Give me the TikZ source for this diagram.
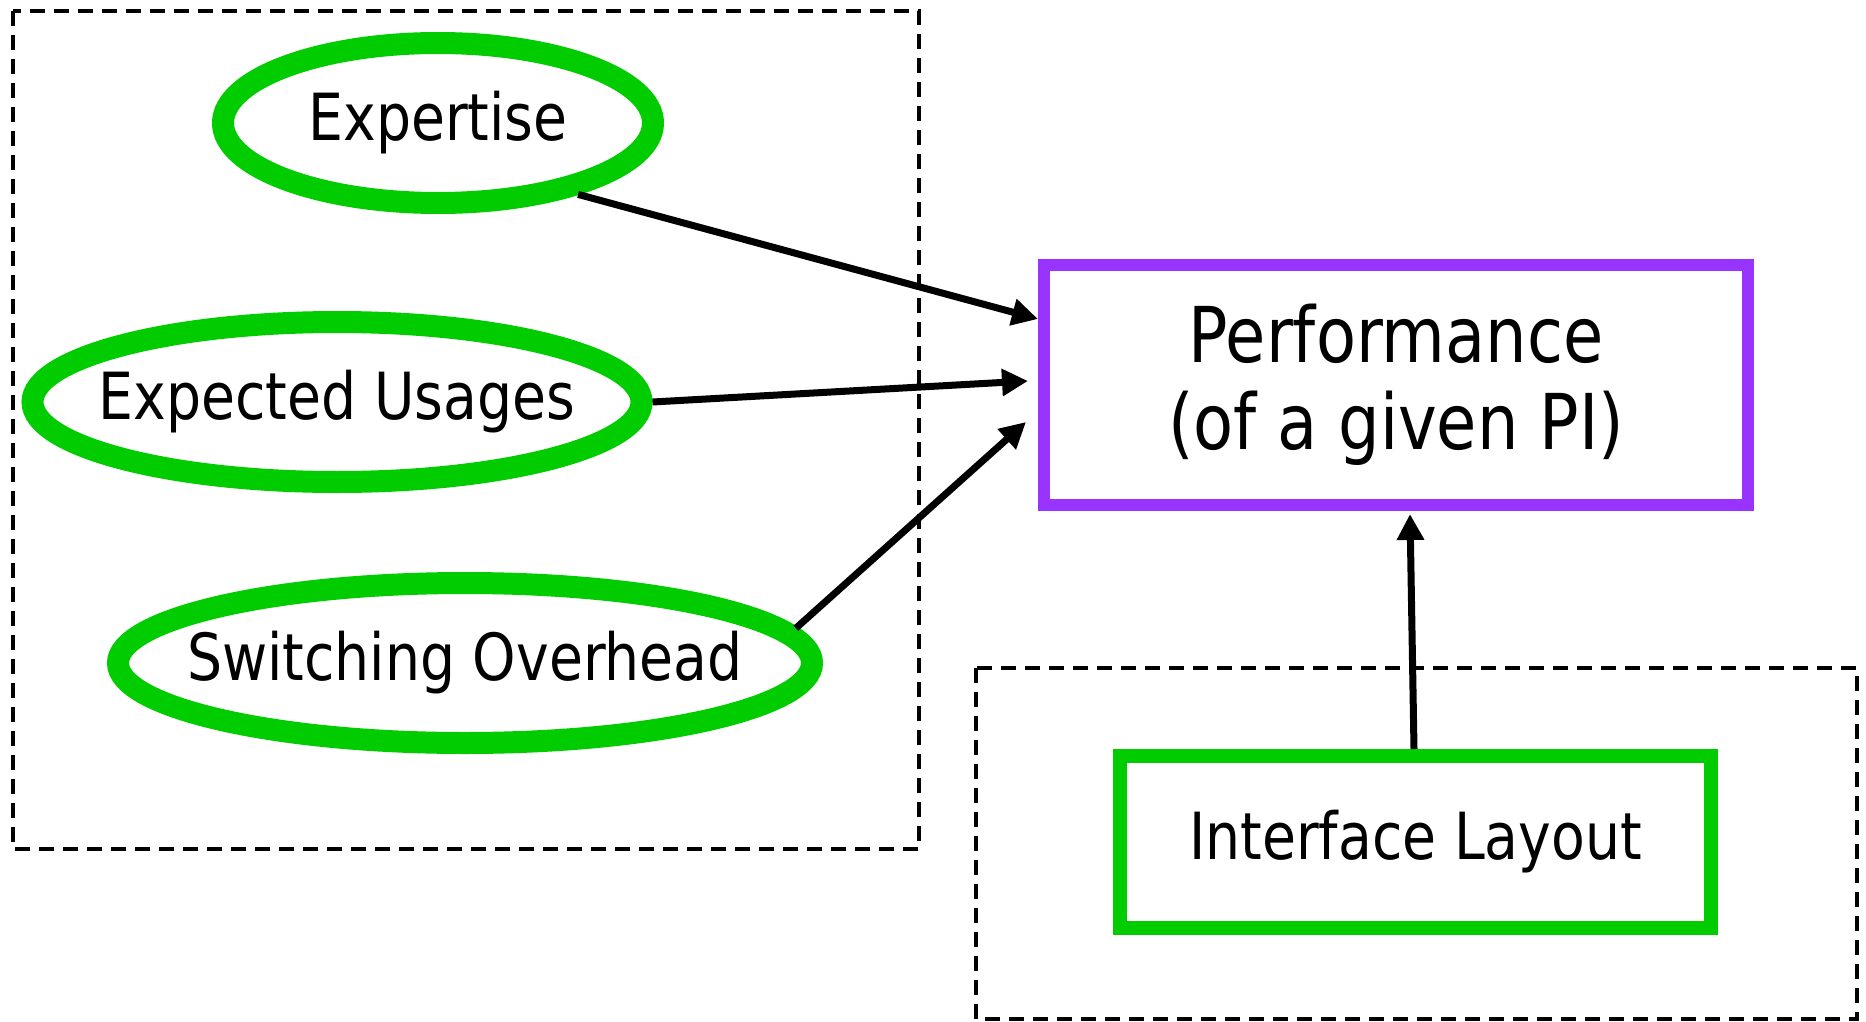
\documentclass[tikz,border=0pt]{standalone}
\usepackage{fontspec}
\setmainfont[FakeStretch=0.85]{DejaVu Sans}
\usetikzlibrary{shapes.geometric,arrows.meta}
\definecolor{factorgreen}{RGB}{0,204,0}
\definecolor{goalpurple}{RGB}{153,51,255}
\tikzset{
  factor/.style={ellipse, draw=factorgreen, line width=22pt, fill=white,
    inner sep=0pt, label={[font=\fontsize{65}{78}\selectfont]center:#1}},
  goalbox/.style={rectangle, draw=goalpurple, line width=12pt, fill=white,
    inner sep=0pt, align=center, font=\fontsize{77}{87}\selectfont},
  layoutbox/.style={rectangle, draw=factorgreen, line width=14pt, fill=white,
    inner sep=0pt, font=\fontsize{65}{78}\selectfont},
  groupframe/.style={draw=black, line width=4pt, dash pattern=on 15pt off 9pt},
  influence/.style={draw=black, line width=7pt,
    -{Triangle[length=26pt,width=26pt]}}
}
\begin{document}
\begin{tikzpicture}[x=1pt,y=-1pt]
\useasboundingbox (0,0) rectangle (1866,1022);

% grouping frames
\draw[groupframe] (13,11) rectangle (919,849);
\draw[groupframe] (976,668) rectangle (1857,1019);

% user factors
\node[factor=Expertise, minimum width=430pt, minimum height=160pt] (expertise) at (438,123) {};
\node[factor=Expected Usages, minimum width=609pt, minimum height=160pt] (usages) at (337,402) {};
\node[factor=Switching Overhead, minimum width=694pt, minimum height=160pt] (switching) at (465,663) {};

% measured outcome
\node[goalbox, minimum width=704pt, minimum height=240pt] (perf) at (1396,385)
  {Performance\\(of a given PI)};

% design factor
\node[layoutbox, minimum width=591pt, minimum height=172pt] (layout) at (1415.5,842) {Interface Layout};

% influences
\draw[influence] (expertise.-27) -- ([yshift=66pt]perf.west);
\draw[influence] (usages.east) -- ([xshift=-10pt,yshift=4pt]perf.west);
\draw[influence] (switching.6) -- ([xshift=-12pt,yshift=-37pt]perf.west);
\draw[influence] ([xshift=-1.5pt]layout.north) -- ([xshift=14pt,yshift=-3pt]perf.south);
\end{tikzpicture}
\end{document}
